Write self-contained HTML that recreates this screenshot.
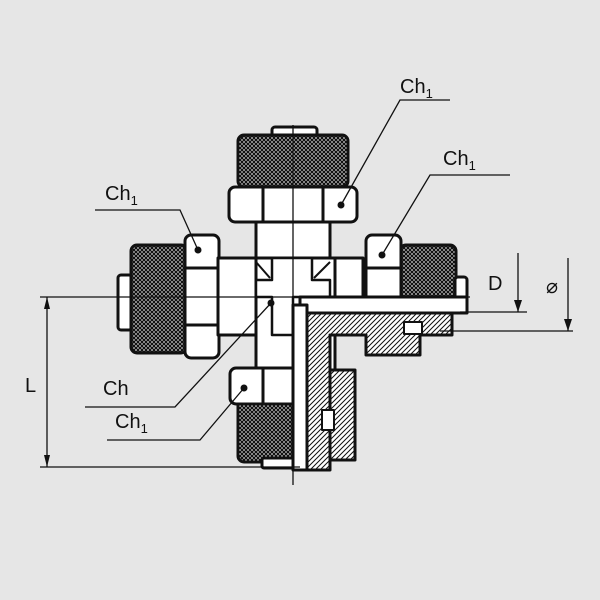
<!DOCTYPE html>
<html><head><meta charset="utf-8"><style>
html,body{margin:0;padding:0;background:#e6e6e6;}
svg{display:block;}
text{font-family:"Liberation Sans",sans-serif;fill:#111;}
</style></head><body>
<svg width="600" height="600" viewBox="0 0 600 600" xmlns="http://www.w3.org/2000/svg">
<defs>
<pattern id="knurl" width="4" height="4" patternUnits="userSpaceOnUse">
<rect width="4" height="4" fill="#fff"/>
<path d="M0 0L4 4M4 0L0 4" stroke="#111" stroke-width="1.5"/>
</pattern>
<pattern id="hatch" width="5" height="5" patternUnits="userSpaceOnUse">
<rect width="5" height="5" fill="#fff"/>
<path d="M-1 6L6 -1M-1 1L1 -1M4 6L6 4" stroke="#111" stroke-width="1"/>
</pattern>
</defs>
<rect width="600" height="600" fill="#e6e6e6"/>
<g stroke="#111" stroke-width="3" stroke-linejoin="round">
<!-- top -->
<rect x="272" y="127" width="45" height="10" rx="3" fill="#fff"/>
<rect x="238" y="135" width="110" height="52" rx="6" fill="url(#knurl)"/>
<rect x="256" y="218" width="74" height="45" fill="#fff"/>
<rect x="229" y="187" width="128" height="35" rx="6" fill="#fff"/>
<line x1="263" y1="188" x2="263" y2="221"/><line x1="323" y1="188" x2="323" y2="221"/>
<!-- left -->
<rect x="118" y="275" width="14" height="55" rx="3" fill="#fff"/>
<rect x="131" y="245" width="56" height="108" rx="6" fill="url(#knurl)"/>
<rect x="185" y="235" width="34" height="123" rx="6" fill="#fff"/>
<line x1="186" y1="268" x2="218" y2="268"/><line x1="186" y1="325" x2="218" y2="325"/>
<!-- body -->
<rect x="218" y="258" width="145" height="77" fill="#fff"/>
<rect x="256" y="258" width="79" height="115" fill="#fff"/>
<path d="M272 258 L312 258 L312 280 L330 280 L330 297 L293 297 L293 335 L272 335 L272 297 L256 297 L256 280 L272 280 Z" fill="#fff" stroke-width="2.5"/>
<line x1="256" y1="262" x2="270" y2="278" stroke-width="2"/>
<line x1="330" y1="262" x2="314" y2="278" stroke-width="2"/>
<!-- right -->
<rect x="400" y="245" width="56" height="60" rx="6" fill="url(#knurl)"/>
<rect x="455" y="277" width="12" height="35" rx="3" fill="#fff"/>
<rect x="366" y="235" width="35" height="70" rx="6" fill="#fff"/>
<line x1="367" y1="268" x2="400" y2="268"/>
<!-- bottom -->
<rect x="238" y="400" width="62" height="62" rx="6" fill="url(#knurl)"/>
<rect x="262" y="458" width="38" height="10" rx="2" fill="#fff"/>
<rect x="230" y="368" width="70" height="36" rx="6" fill="#fff"/>
<line x1="263" y1="369" x2="263" y2="403"/>
<!-- section hatched -->
<path d="M305 313 L452 313 L452 335 L420 335 L420 355 L366 355 L366 335 L330 335 L330 470 L307 470 Z" fill="url(#hatch)"/>
<path d="M330 370 L355 370 L355 460 L330 460 Z" fill="url(#hatch)"/>
<rect x="300" y="297" width="167" height="16" fill="#fff"/>
<rect x="293" y="305" width="14" height="165" fill="#fff"/>
<rect x="404" y="322" width="18" height="12" fill="#fff" stroke-width="2"/>
<rect x="322" y="410" width="12" height="20" fill="#fff" stroke-width="2"/>
</g>
<g fill="#111">
<circle cx="341" cy="205" r="3.5"/><circle cx="198" cy="250" r="3.5"/>
<circle cx="382" cy="255" r="3.5"/><circle cx="271" cy="303" r="3.5"/>
<circle cx="244" cy="388" r="3.5"/>
</g>
<g stroke="#111" stroke-width="1.3" fill="none">
<line x1="40" y1="297" x2="470" y2="297"/>
<line x1="293" y1="125" x2="293" y2="485"/>
<line x1="40" y1="467" x2="300" y2="467"/>
<line x1="47" y1="297" x2="47" y2="467"/>
<line x1="460" y1="312" x2="527" y2="312"/>
<line x1="440" y1="331" x2="573" y2="331"/>
<line x1="518" y1="253" x2="518" y2="312"/>
<line x1="568" y1="258" x2="568" y2="331"/>
<polyline points="450,100 400,100 341,205"/>
<polyline points="510,175 430,175 382,255"/>
<polyline points="95,210 180,210 198,250"/>
<polyline points="85,407 175,407 271,303"/>
<polyline points="107,440 200,440 244,388"/>
</g>
<g fill="#111">
<path d="M47 297 l-3 12 h6z"/><path d="M47 467 l-3 -12 h6z"/>
<path d="M518 312 l-4 -12 h8z"/><path d="M568 331 l-4 -12 h8z"/>
</g>
<g font-size="20">
<text x="400" y="93">Ch<tspan font-size="13" dy="5">1</tspan></text>
<text x="443" y="165">Ch<tspan font-size="13" dy="5">1</tspan></text>
<text x="105" y="200">Ch<tspan font-size="13" dy="5">1</tspan></text>
<text x="103" y="395">Ch</text>
<text x="115" y="428">Ch<tspan font-size="13" dy="5">1</tspan></text>
<text x="25" y="392">L</text>
<text x="488" y="290">D</text>
<text x="546" y="293">⌀</text>
</g>
</svg>
</body></html>
